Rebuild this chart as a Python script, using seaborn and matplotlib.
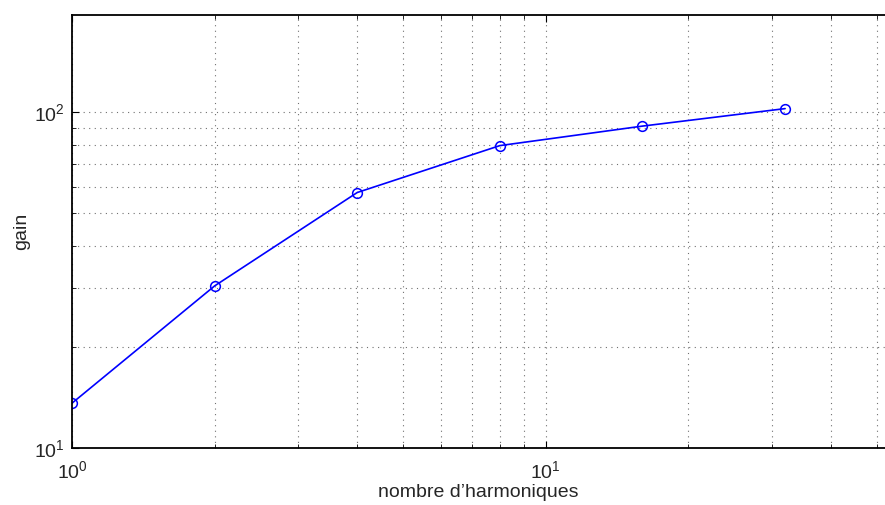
import numpy as np
import pandas as pd
import matplotlib
matplotlib.use("Agg")
import matplotlib.pyplot as plt
import matplotlib.ticker as mticker
import seaborn as sns

# data
n_harmonics = [1, 2, 4, 8, 16, 32]
gain = [13.6, 30.4, 57.7, 79.6, 91.0, 102.6]

x_label = "nombre d\u2019harmoniques"
y_label = "gain"

df = pd.DataFrame({"n": n_harmonics, "gain": gain})

sns.set_theme(style="white")
plt.rcParams["font.family"] = ["Liberation Sans", "DejaVu Sans"]
plt.rcParams["mathtext.default"] = "regular"

fig = plt.figure(figsize=(8.85, 5.05), dpi=100)
ax = fig.add_axes([72 / 885, 57 / 505, 813 / 885, 433 / 505])

sns.lineplot(data=df, x="n", y="gain", ax=ax, color="blue", linewidth=1.2,
             marker="o", markersize=7, markerfacecolor="none",
             markeredgecolor="blue", markeredgewidth=1.1)

ax.set_xscale("log")
ax.set_yscale("log")
ax.set_xlim(1, 52)
ax.set_ylim(10, 195)

ax.xaxis.set_minor_formatter(mticker.NullFormatter())
ax.yaxis.set_minor_formatter(mticker.NullFormatter())

grid_kw = dict(color="#707070", linestyle=(0, (1, 4)), linewidth=0.8)
ax.grid(True, which="major", **grid_kw)
ax.grid(True, which="minor", **grid_kw)

for s in ["left", "bottom", "top"]:
    ax.spines[s].set_color("black")
    ax.spines[s].set_linewidth(1.3)
ax.spines["right"].set_visible(False)

ax.tick_params(which="both", direction="in", top=True, right=False,
               left=True, bottom=True, color="black", labelsize=14)
ax.tick_params(which="major", length=5, width=0.8)
ax.tick_params(which="minor", length=3, width=0.6)
ax.tick_params(axis="x", which="major", pad=9)
ax.tick_params(axis="y", which="major", pad=5)

ax.set_xlabel(x_label, fontsize=14, labelpad=1)
ax.set_ylabel(y_label, fontsize=14, labelpad=3)

fig.savefig("out.png", dpi=100)
